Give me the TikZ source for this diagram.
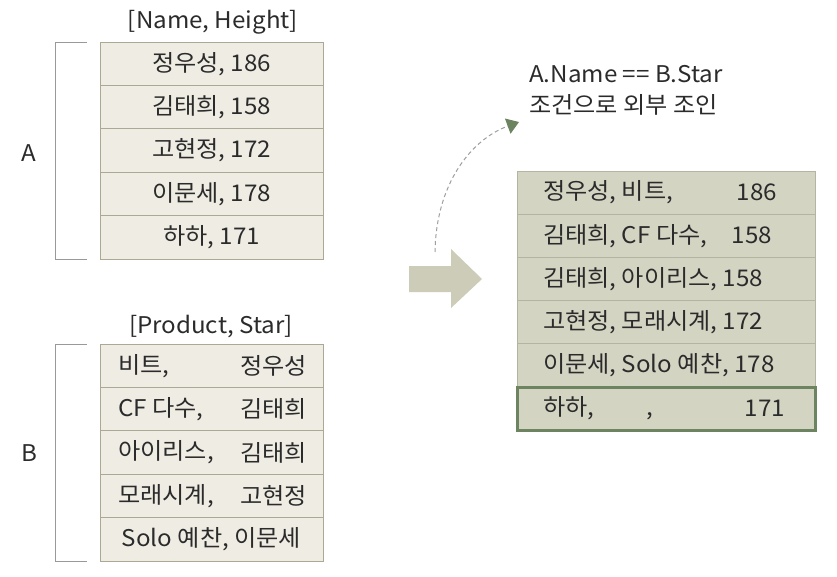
\documentclass[tikz,border=0pt]{standalone}
\usepackage{fontspec}
\setmainfont{Noto Sans CJK KR}[FakeStretch=1.05]
\usetikzlibrary{arrows.meta}
\definecolor{beige}{HTML}{EFECE3}
\definecolor{beigeline}{HTML}{ABA896}
\definecolor{sage}{HTML}{D4D4C3}
\definecolor{sageline}{HTML}{B4B4A2}
\definecolor{bigarrow}{HTML}{CCCCB8}
\definecolor{darkgreen}{HTML}{6C8460}
\definecolor{txt}{HTML}{2B2B2B}
\tikzset{
  every node/.style={text=txt, font=\fontsize{23}{27}\selectfont, inner sep=0pt},
  rowA/.style={draw=beigeline, fill=beige, line width=0.9pt, minimum width=223pt, minimum height=43.4pt},
  rowR/.style={draw=sageline, fill=sage, line width=0.9pt, minimum width=298pt, minimum height=43.2pt},
  brack/.style={draw=gray!80, line width=0.9pt},
}
\begin{document}
\begin{tikzpicture}[x=1pt,y=-1pt]
\useasboundingbox (0,0) rectangle (837,577);
\fill[white] (0,0) rectangle (837,577);
% Table A
\node (ha) at (213,22) {[Name, Height]};
\node[rowA] (a1) at (211.5,63.7) {정우성, 186};
\node[rowA] (a2) at (211.5,107.1) {김태희, 158};
\node[rowA] (a3) at (211.5,150.5) {고현정, 172};
\node[rowA] (a4) at (211.5,193.9) {이문세, 178};
\node[rowA] (a5) at (211.5,237.3) {하하, 171};
\coordinate (at) at (87,42);
\coordinate (ab) at (87,259);
\draw[brack] (at) -- (55,42) -- (55,259) -- (ab);
\node (la) at (29,153) {A};
% Table B
\node (hb) at (211,327) {[Product, Star]};
\node[rowA] (b1) at (211.5,365.7) {};
\node[rowA] (b2) at (211.5,409.1) {};
\node[rowA] (b3) at (211.5,452.5) {};
\node[rowA] (b4) at (211.5,495.9) {};
\node[rowA] (b5) at (211.5,539.3) {Solo 예찬, 이문세};
\node[anchor=west] (b1l) at (118,365.7) {비트,};
\node[anchor=east] (b1r) at (307,365.7) {정우성};
\node[anchor=west] (b2l) at (118,409.1) {CF 다수,};
\node[anchor=east] (b2r) at (307,409.1) {김태희};
\node[anchor=west] (b3l) at (118,452.5) {아이리스,};
\node[anchor=east] (b3r) at (307,452.5) {김태희};
\node[anchor=west] (b4l) at (118,495.9) {모래시계,};
\node[anchor=east] (b4r) at (307,495.9) {고현정};
\coordinate (bt) at (87,344);
\coordinate (bb) at (87,561);
\draw[brack] (bt) -- (55,344) -- (55,561) -- (bb);
\node (lb) at (29,453) {B};
% Big arrow
\fill[bigarrow] (409,266) -- (451,266) -- (451,249) -- (482,279) -- (451,308) -- (451,292) -- (409,292) -- cycle;
% Result table
\node[rowR] (r1) at (666,192.6) {};
\node[rowR] (r2) at (666,235.8) {};
\node[rowR] (r3) at (666,279) {};
\node[rowR] (r4) at (666,322.2) {};
\node[rowR] (r5) at (666,365.4) {};
\node[rowR, draw=darkgreen, line width=3pt] (r6) at (666,408.6) {};
\node[anchor=west] (r1l) at (543,192.6) {정우성, 비트,};
\node[anchor=east] (r1r) at (777,192.6) {186};
\node[anchor=west] (r2l) at (543,235.8) {김태희, CF 다수,};
\node[anchor=east] (r2r) at (772,235.8) {158};
\node[anchor=west] (r3l) at (543,279) {김태희, 아이리스, 158};
\node[anchor=west] (r4l) at (543,322.2) {고현정, 모래시계, 172};
\node[anchor=west] (r5l) at (543,365.4) {이문세, Solo 예찬, 178};
\node[anchor=west] (r6l) at (543,408.6) {하하,};
\node[anchor=base] (r6m) at ([xshift=-16pt]r6l.base -| r6.center) {,};
\node[anchor=east] (r6r) at (785,408.6) {171};
% Condition text
\node[anchor=west] (c1) at (529,74) {A.Name == B.Star};
\node[anchor=west] (c2) at (529,105) {조건으로 외부 조인};
% dashed curved arrow
\coordinate (ds) at (435,252);
\coordinate (de) at (519,122);
\draw[gray!75, line width=1pt, dash pattern=on 4pt off 3pt, -{Triangle[length=12pt,width=16pt,fill=darkgreen,color=darkgreen]}]
  (ds) .. controls (436,185) and (470,140) .. (de);
\end{tikzpicture}
\end{document}
